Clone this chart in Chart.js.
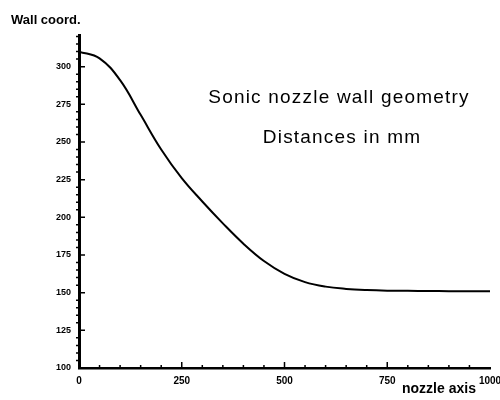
<!DOCTYPE html>
<html>
<head>
<meta charset="utf-8">
<script src="https://cdn.jsdelivr.net/npm/chart.js@4"></script>
<style>
  html, body { margin: 0; padding: 0; background: #fff; }
  #wrap { width: 500px; height: 400px; }
</style>
</head>
<body>
<div id="wrap"><canvas id="chart" width="500" height="400"></canvas></div>
<script>
// nozzle axis position (mm) and wall coordinate (mm)
const axisPos = [0, 50, 100, 150, 200, 250, 300, 350, 400, 450, 500, 550, 600, 650, 700, 750, 800, 850, 900, 950, 1000];
const wallCoord = [310, 305.5, 291, 268, 245, 226, 210.5, 196, 182.5, 171, 162.5, 157, 154, 152.5, 151.7, 151.3, 151.2, 151.1, 151, 151, 151];

const xTicks = [0, 250, 500, 750, 1000];
const yTicks = [100, 125, 150, 175, 200, 225, 250, 275, 300];
const xMinorStep = 50;
const yMinorStep = 5;

const notes = ['Sonic nozzle wall geometry', 'Distances in mm'];

// hand-drawn style ticks pointing into the plot
const innerTicks = {
    id: 'innerTicks',
    afterDraw(chart) {
        const ctx = chart.ctx;
        const x = chart.scales.x;
        const y = chart.scales.y;
        const area = chart.chartArea;
        ctx.save();
        ctx.strokeStyle = '#000';
        ctx.lineWidth = 1.5;
        ctx.beginPath();
        for (let v = x.min + xMinorStep; v < x.max; v += xMinorStep) {
            const px = x.getPixelForValue(v);
            const len = xTicks.includes(v) ? 6 : 3;
            ctx.moveTo(px, area.bottom);
            ctx.lineTo(px, area.bottom - len);
        }
        for (let v = y.min + yMinorStep; v <= y.max; v += yMinorStep) {
            const py = y.getPixelForValue(v);
            if (yTicks.includes(v)) {
                ctx.moveTo(area.left, py);
                ctx.lineTo(area.left + 6, py);
            } else {
                ctx.moveTo(area.left - 3, py);
                ctx.lineTo(area.left + 1, py);
            }
        }
        ctx.stroke();

        ctx.fillStyle = '#000';
        ctx.font = 'bold 13px "Liberation Sans", Arial, sans-serif';
        ctx.textBaseline = 'middle';
        ctx.textAlign = 'left';
        ctx.fillText('Wall coord.', 11, 20);
        ctx.font = 'bold 14px "Liberation Sans", Arial, sans-serif';
        ctx.fillText('nozzle axis', 402, 389);

        ctx.font = '19px "Liberation Sans", Arial, sans-serif';
        ctx.textAlign = 'center';
        ctx.letterSpacing = '1.2px';
        ctx.fillText(notes[0], 339, 98);
        ctx.fillText(notes[1], 342, 138);
        ctx.restore();
    }
};

new Chart(document.getElementById('chart'), {
    type: 'line',
    data: {
        datasets: [{
            data: axisPos.map((p, i) => ({ x: p, y: wallCoord[i] })),
            borderColor: '#000',
            borderWidth: 2,
            pointRadius: 0,
            tension: 0.4,
            fill: false,
        }],
    },
    options: {
        responsive: false,
        animation: false,
        layout: { padding: { left: 0, top: 35, right: 10, bottom: 0 } },
        plugins: { legend: { display: false }, tooltip: { enabled: false } },
        scales: {
            x: {
                type: 'linear',
                min: 0,
                max: 1000,
                afterBuildTicks: s => { s.ticks = xTicks.map(v => ({ value: v })); },
                afterFit: s => { s.height = 32; s.paddingLeft = 0; s.paddingRight = 0; },
                grid: { display: false, drawTicks: false },
                border: { display: true, color: '#000', width: 2.5 },
                ticks: {
                    padding: 7,
                    maxRotation: 0,
                    autoSkip: false,
                    color: '#000',
                    callback: v => String(v),
                    font: { family: 'Liberation Sans', size: 10, weight: 'bold' },
                },
            },
            y: {
                min: 100,
                max: 321,
                afterBuildTicks: s => { s.ticks = yTicks.map(v => ({ value: v })); },
                afterFit: s => { s.width = 79; s.paddingTop = 0; s.paddingBottom = 0; },
                grid: { display: false, drawTicks: false },
                border: { display: true, color: '#000', width: 3 },
                ticks: {
                    padding: 8,
                    autoSkip: false,
                    color: '#000',
                    callback: v => String(v),
                    font: { family: 'Liberation Sans', size: 9, weight: 'bold' },
                },
            },
        },
    },
    plugins: [innerTicks],
});
</script>
</body>
</html>
